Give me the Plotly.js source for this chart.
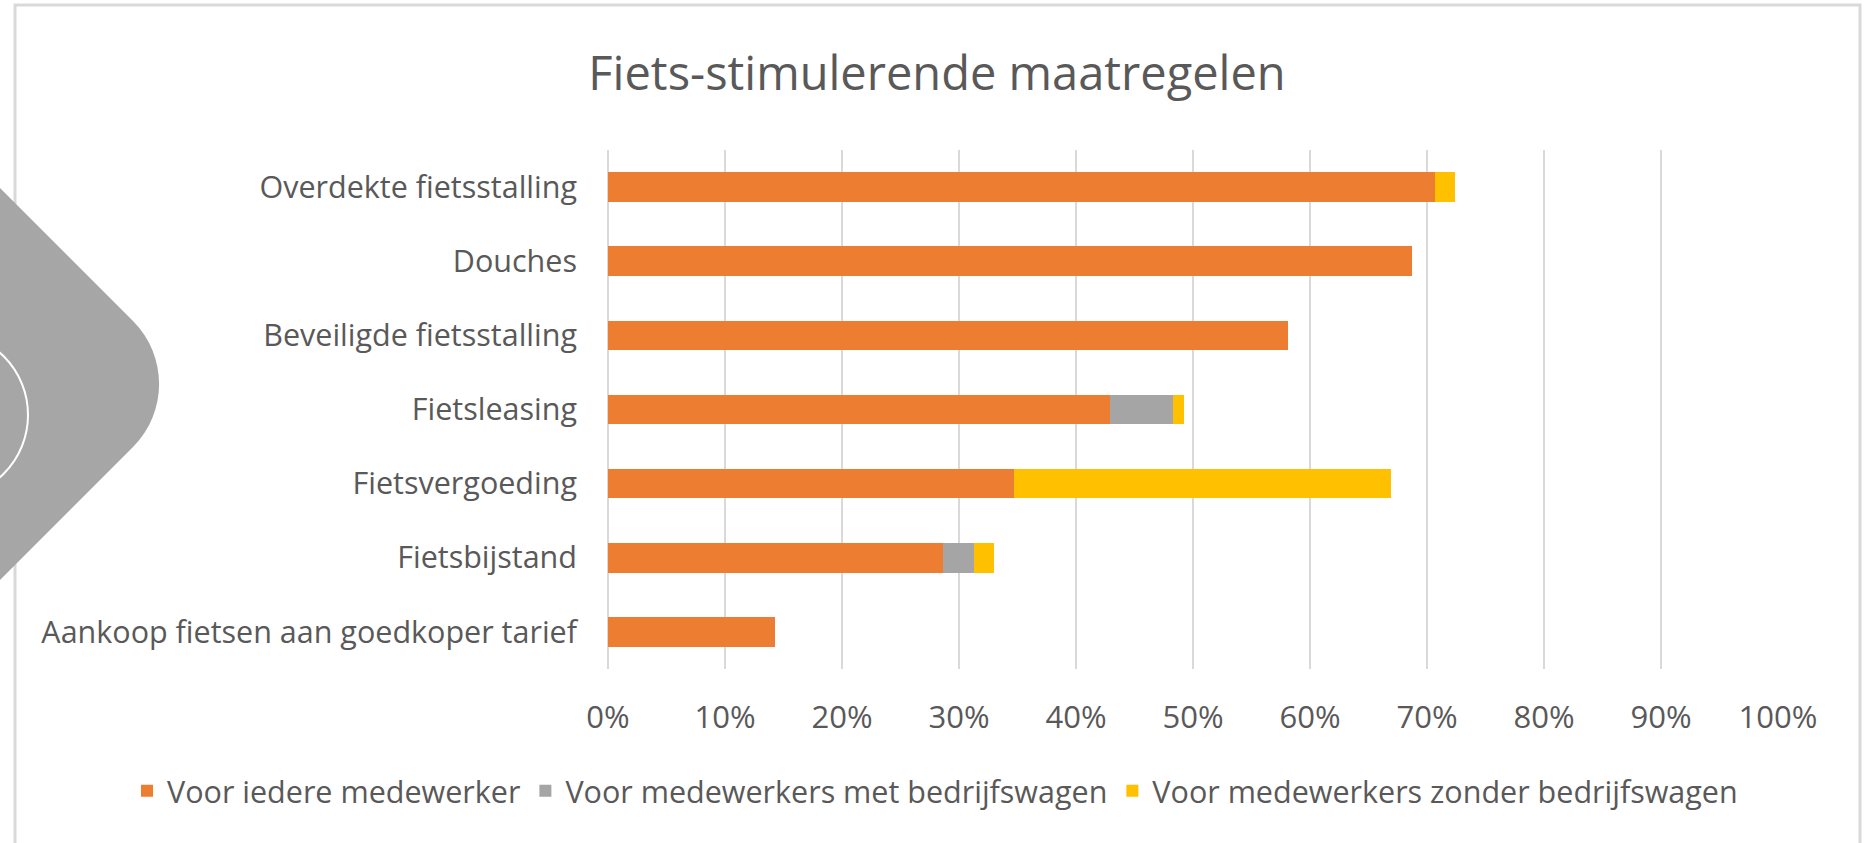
<!DOCTYPE html>
<html>
<head>
<meta charset="utf-8">
<script src="https://cdn.plot.ly/plotly-3.0.1.min.js"></script>
<style>
  html, body { margin: 0; padding: 0; background: #ffffff; }
  #chart { width: 1870px; height: 843px; }
</style>
</head>
<body>
<div id="chart"></div>
<script>
// ---- data (top to bottom order) ----
const categories = [
  "Overdekte fietsstalling",
  "Douches",
  "Beveiligde fietsstalling",
  "Fietsleasing",
  "Fietsvergoeding",
  "Fietsbijstand",
  "Aankoop fietsen aan goedkoper tarief"
];
const seriesNames = [
  "Voor iedere medewerker",
  "Voor medewerkers met bedrijfswagen",
  "Voor medewerkers zonder bedrijfswagen"
];
const voorIedere = [70.7, 68.7, 58.1, 42.9, 34.7, 28.6, 14.3];
const metWagen   = [0, 0, 0, 5.4, 0, 2.7, 0];
const zonderWagen = [1.7, 0, 0, 0.9, 32.2, 1.7, 0];
const tickValues = [0, 10, 20, 30, 40, 50, 60, 70, 80, 90, 100];
const tickLabels = ["0%", "10%", "20%", "30%", "40%", "50%", "60%", "70%", "80%", "90%", "100%"];
const chartTitle = "Fiets-stimulerende maatregelen";

// ---- styling ----
const colors = ["#ED7D31", "#A5A5A5", "#FFC000"];
const textColor = "#595959";
const gridColor = "#D9D9D9";
const FONT = "'Open Sans', Lato, sans-serif";

const W = 1870, H = 843;
const M = { l: 608, r: 92, t: 150, b: 174 };
const pw = W - M.l - M.r, ph = H - M.t - M.b;
const px = p => (p - M.l) / pw;
const py = p => (H - M.b - p) / ph;

const seriesValues = [voorIedere, metWagen, zonderWagen];
const traces = seriesValues.map((vals, i) => ({
  type: "bar",
  orientation: "h",
  name: seriesNames[i],
  y: categories,
  x: vals,
  marker: { color: colors[i], line: { width: 0 } },
  hoverinfo: "skip"
}));

// decorative shapes (pixel -> paper conversions)
const dPath =
  "M" + px(-20) + "," + py(168) +
  " L" + px(133) + "," + py(321) +
  " C" + px(167.8) + "," + py(355.8) + " " + px(167.8) + "," + py(412.2) + " " + px(133) + "," + py(447) +
  " L" + px(-20) + "," + py(600) + " Z";

const shapes = [
  { type: "rect", xref: "paper", yref: "paper", layer: "below",
    x0: px(15), x1: px(1860), y0: py(5), y1: py(860),
    line: { color: "#D9D9D9", width: 3 }, fillcolor: "rgba(0,0,0,0)" },
  { type: "path", xref: "paper", yref: "paper", layer: "above",
    path: dPath, fillcolor: "#A6A6A6", line: { width: 0 } },
  { type: "circle", xref: "paper", yref: "paper", layer: "above",
    x0: px(-138), x1: px(28), y0: py(498), y1: py(332),
    line: { color: "#FFFFFF", width: 2 }, fillcolor: "rgba(0,0,0,0)" }
];

const layout = {
  width: W, height: H,
  margin: M,
  paper_bgcolor: "#ffffff",
  plot_bgcolor: "#ffffff",
  barmode: "stack",
  bargap: 0.6,
  showlegend: true,
  font: { family: FONT, color: textColor, size: 30 },
  title: {
    text: chartTitle,
    font: { family: FONT, size: 47, color: textColor },
    xref: "container", x: 937 / W, xanchor: "center",
    yref: "container", y: 1 - 74 / H, yanchor: "middle"
  },
  xaxis: {
    range: [0, 100],
    tickvals: tickValues,
    ticktext: tickLabels,
    showgrid: true, gridcolor: gridColor, gridwidth: 2,
    zeroline: true, zerolinecolor: gridColor, zerolinewidth: 2,
    showline: false, ticks: "",
    tickfont: { family: FONT, size: 31, color: textColor },
    ticklabelstandoff: 27,
    fixedrange: true
  },
  yaxis: {
    autorange: "reversed",
    showgrid: false, zeroline: false, showline: false, ticks: "",
    tickfont: { family: FONT, size: 30.5, color: textColor },
    ticklabelstandoff: 30,
    fixedrange: true
  },
  legend: {
    orientation: "h",
    x: px(127), xanchor: "left",
    y: py(791), yanchor: "middle",
    font: { family: FONT, size: 30.5, color: textColor },
    traceorder: "normal",
    itemwidth: 30,
    bgcolor: "rgba(0,0,0,0)"
  },
  shapes: shapes
};

Plotly.newPlot("chart", traces, layout, { staticPlot: true, displayModeBar: false });
</script>
</body>
</html>
